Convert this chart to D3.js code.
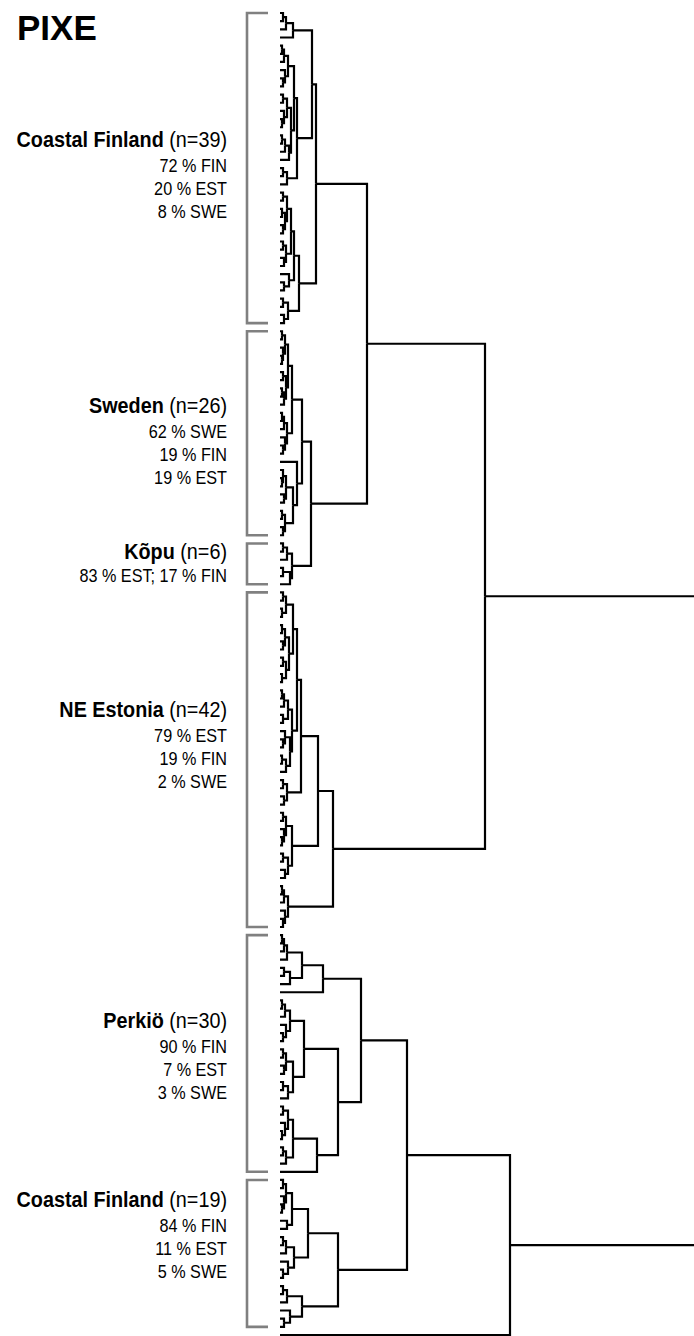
<!DOCTYPE html>
<html>
<head>
<meta charset="utf-8">
<script src="https://cdn.jsdelivr.net/npm/d3@7"></script>
<style>
  body { margin: 0; background: #fff; }
  text { font-family: "Liberation Sans", Arial, sans-serif; fill: #000; }
</style>
</head>
<body>
<svg id="chart" width="694" height="1336"></svg>
<script>
/*
 * Data: a node is [mergeHeight, child, child, ...], a leaf is 0.
 */

var COASTAL_FIN_39 = [36,
  [32,
    [13, [6, [3, 0, 0], 0], 0],
    [17,
      [14,
        [8, [4, [2, 0, 0], 0], [5, 0, [3, 0, 0]]],
        [11, [7, [3, 0, 0], [4, 0, [2, 0, 0]]], [9, [5, [2, 0, 0], 0], 0]]],
      [7, [3, 0, 0], 0]]],
  [19,
    [14,
      [11,
        [7, [3, 0, 0], [5, [2, 0, 0], [3, 0, 0]]],
        [6, [3, 0, 0], [4, 0, 0]]],
      [9, 0, [4, 0, 0]]],
    [8, [3, 0, 0], [4, 0, 0]]]];

var SWEDEN_26 = [22,
  [12,
    [8, [5, [2, 0, 0], [3, 0, [2, 0, 0]]], [6, [3, 0, 0], [4, [2, 0, 0], 0]]],
    [7, [4, [2, 0, 0], 0], [5, 0, [3, 0, 0]]]],
  [17, 0,
    [13,
      [6, [3, 0, [2, 0, 0]], [4, 0, 0]],
      [5, [2, 0, 0], [3, 0, 0]]]]];

var KOPU_6 = [12, [7, [3, 0, 0], 0], [10, [3, 0, 0], 0]];

var NE_ESTONIA_42 = [53,
  [38,
    [21,
      [17,
        [13, [6, [3, 0, 0], [2, 0, 0]], [9, [5, [2, 0, 0], [3, 0, 0]], [6, [3, 0, 0], [2, 0, 0]]]],
        [12, [8, [4, [2, 0, 0], 0], [3, 0, 0]], [10, [5, 0, [3, 0, 0]], [6, [2, 0, 0], 0]]]],
      [7, [3, 0, 0], [4, 0, 0]]],
    [12, [6, [3, 0, 0], [4, 0, [2, 0, 0]]], [8, [3, 0, 0], [5, 0, 0]]]],
  [8, [4, [2, 0, 0], 0], [5, 0, [3, 0, 0]]]];

var PERKIO_30 = [81,
  [43, [22, [7, [4, [2, 0, 0], 0], 0], [10, [4, 0, 0], 0]], 0],
  [58,
    [24,
      [10, [5, [2, 0, 0], 0], [6, 0, [3, 0, 0]]],
      [13, [6, [3, 0, 0], [4, 0, 0]], [8, [3, 0, 0], 0]]],
    [37, [13, [8, [3, 0, 0], [5, 0, [2, 0, 0]]], [6, [3, 0, 0], 0]], 0]]];

var COASTAL_FIN_19 = [58,
  [28,
    [12, [6, [3, 0, 0], [4, 0, [2, 0, 0]]], [7, 0, 0]],
    [14, [6, [3, 0, 0], 0], [8, 0, [3, 0, 0]]]],
  [22, [7, [3, 0, 0], 0], [10, 0, [4, 0, 0]]]];

// Upper merges (root lies beyond the right edge)
var TREE = [460,
  [205, [87, COASTAL_FIN_39, [31, SWEDEN_26, KOPU_6]], NE_ESTONIA_42],
  [230, [127, PERKIO_30, COASTAL_FIN_19], 0]];

var GROUP_TREES = [COASTAL_FIN_39, SWEDEN_26, KOPU_6, NE_ESTONIA_42, PERKIO_30, COASTAL_FIN_19];
var GROUP_NAMES = ["Coastal Finland", "Sweden", "Kõpu", "NE Estonia", "Perkiö", "Coastal Finland"];
var GROUP_N = [39, 26, 6, 42, 30, 19];
var GROUP_SHARES = [
  ["72 % FIN", "20 % EST", "8 % SWE"],
  ["62 % SWE", "19 % FIN", "19 % EST"],
  ["83 % EST; 17 % FIN"],
  ["79 % EST", "19 % FIN", "2 % SWE"],
  ["90 % FIN", "7 % EST", "3 % SWE"],
  ["84 % FIN", "11 % EST", "5 % SWE"]
];
var TITLE = "PIXE";

// Layout
var LEAF_X = 280;
var LABEL_RIGHT = 227;
var LABEL_BASE = [147, 413, 559, 717, 1028, 1207]; // baseline of each bold label
var LINE_GAPS = [25, 48, 71];
var BRACKET_LEFT = 247;
var BRACKET_RIGHT = 268;

var svg = d3.select("#chart");

var root = d3.hierarchy(TREE, function (d) {
  return Array.isArray(d) ? d.slice(1) : null;
});
var leaves = root.leaves();

var X_SCALE = d3.scaleLinear().domain([0, 414]).range([LEAF_X, 694]);
var Y_SCALE = d3.scaleLinear().domain([0, leaves.length - 1]).range([13, 1335]);

function h_of(node) {
  return Array.isArray(node.data) ? node.data[0] : 0;
}

leaves.forEach(function (l, i) { l.y = Y_SCALE(i); });
root.eachAfter(function (n) {
  if (n.children) {
    n.y = (n.children[0].y + n.children[n.children.length - 1].y) / 2;
  }
});

// Links: elbow from each node to its parent
svg.append("g")
  .attr("fill", "none")
  .attr("stroke", "#000")
  .attr("stroke-width", 2.2)
  .selectAll("path")
  .data(root.descendants().filter(function (d) { return d.parent; }))
  .enter().append("path")
  .attr("d", function (d) {
    return "M" + X_SCALE(h_of(d)) + "," + d.y +
      "H" + X_SCALE(h_of(d.parent)) +
      "V" + d.parent.y;
  });

// Group brackets + labels
var groupNodes = GROUP_TREES.map(function (t) {
  return root.find(function (n) { return n.data === t; });
});

svg.append("g")
  .attr("fill", "none")
  .attr("stroke", "#808080")
  .attr("stroke-width", 2.6)
  .selectAll("path")
  .data(groupNodes)
  .enter().append("path")
  .attr("d", function (n) {
    var ls = n.leaves();
    var y0 = ls[0].y, y1 = ls[ls.length - 1].y;
    return "M" + BRACKET_RIGHT + "," + y0 + "H" + BRACKET_LEFT +
      "V" + y1 + "H" + BRACKET_RIGHT;
  });

var labels = svg.append("g")
  .selectAll("g")
  .data(GROUP_NAMES)
  .enter().append("g")
  .attr("transform", function (d, i) {
    return "translate(" + LABEL_RIGHT + "," + LABEL_BASE[i] + ") scale(0.9,1)";
  });

var head = labels.append("text")
  .attr("text-anchor", "end")
  .style("font-size", "22px");
head.append("tspan")
  .style("font-weight", "bold")
  .text(function (d) { return d; });
head.append("tspan")
  .text(function (d, i) { return " (n=" + GROUP_N[i] + ")"; });

labels.each(function (d, i) {
  d3.select(this).selectAll("text.share")
    .data(GROUP_SHARES[i])
    .enter().append("text")
    .attr("class", "share")
    .attr("text-anchor", "end")
    .attr("y", function (s, j) { return LINE_GAPS[j] - (GROUP_SHARES[i].length === 1 ? 2 : 0); })
    .style("font-size", "18px")
    .text(function (s) { return s; });
});

// Title
svg.append("text")
  .attr("x", 17)
  .attr("y", 40)
  .style("font-size", "35px")
  .style("font-weight", "bold")
  .text(TITLE);
</script>
</body>
</html>
